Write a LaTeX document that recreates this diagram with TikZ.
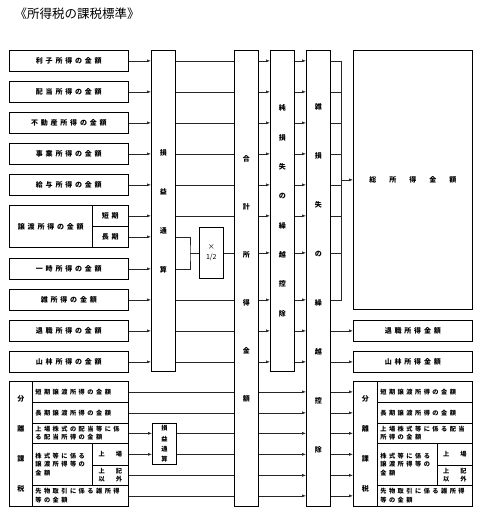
\documentclass[tikz,border=0pt]{standalone}
\usepackage{fontspec}
\setmainfont{Noto Sans CJK JP}
\usetikzlibrary{arrows.meta}
\newcommand{\spread}{\bfseries\addfontfeature{LetterSpace=40}}

\begin{document}
\begin{tikzpicture}[x=1pt,y=-1pt,>={Latex[length=4pt,width=3pt]},
	box/.style={draw,line width=0.7pt,inner sep=0pt,anchor=north west,
		font=\fontsize{7}{8}\selectfont\spread},
	cell/.style={box,align=left,inner xsep=3pt,
		font=\fontsize{6.2}{8.5}\selectfont\spread},
	col/.style={box,minimum width=24pt,align=center},
	link/.style={line width=0.6pt,black!85}]

	\useasboundingbox (0,0) rectangle (481,512);
	\node[anchor=west,font=\fontsize{12.5}{14}\selectfont] (title) at (11,14) {《所得税の課税標準》};

	% The income boxes
	\foreach \nm/\yy/\txt in {rishi/50/利子所得の金額,haito/81/配当所得の金額,
		fudo/112/不動産所得の金額,jigyo/143/事業所得の金額,kyuyo/174/給与所得の金額,
		ichiji/258/一時所得の金額,zatsu/289/雑所得の金額,taisho/320/退職所得の金額,
		sanrin/351/山林所得の金額}
		\node[box,minimum width=119pt,minimum height=21pt] (\nm) at (9,\yy) {\txt};
	\node[box,minimum width=83pt,minimum height=42pt] (joto) at (9,205) {譲渡所得の金額};
	\node[box,minimum width=36pt,minimum height=21pt] (tanki) at (92,205) {短期};
	\node[box,minimum width=36pt,minimum height=21pt] (choki) at (92,226) {長期};

	% The columns
	\node[col,minimum height=321pt,font=\fontsize{7}{39}\selectfont\bfseries] (son1) at (151,50) {損\\益\\通\\算};
	\node[col,minimum height=51pt,font=\fontsize{7}{10}\selectfont] (half) at (199,227) {×\\1/2};
	\node[col,minimum height=456pt,font=\fontsize{7}{48}\selectfont\bfseries] (gokei) at (234,50) {合\\計\\所\\得\\金\\額};
	\node[col,minimum height=321pt,font=\fontsize{7}{29.3}\selectfont\bfseries] (junson) at (270,50) {純\\損\\失\\の\\繰\\越\\控\\除};
	\node[col,minimum height=456pt,font=\fontsize{7}{49}\selectfont\bfseries] (zasson) at (306,50) {雑\\損\\失\\の\\繰\\越\\控\\除};
	\node[col,minimum height=41pt,font=\fontsize{6.2}{10.3}\selectfont\bfseries] (son2) at (152,423) {損\\益\\通\\算};

	% The results
	\node[box,minimum width=119pt,minimum height=259pt,font=\fontsize{7}{8}\selectfont\bfseries] (sou) at (353,50)
		{総\hspace{13pt}所\hspace{13pt}得\hspace{13pt}金\hspace{13pt}額};
	\node[box,minimum width=119pt,minimum height=21pt] (rtai) at (353,320) {退職所得金額};
	\node[box,minimum width=119pt,minimum height=21pt] (rsan) at (353,351) {山林所得金額};

	% Separate taxation, left
	\node[box,minimum width=23pt,minimum height=125pt,align=center,font=\fontsize{7}{29.7}\selectfont\bfseries] (lbunri) at (9,381) {分\\離\\課\\税};
	\node[cell,text width=90pt,minimum height=21pt] (lr1) at (32,381) {短期譲渡所得の金額};
	\node[cell,text width=90pt,minimum height=21pt] (lr2) at (32,402) {長期譲渡所得の金額};
	\node[cell,text width=90pt,minimum height=20pt] (lr3) at (32,423) {上場株式の配当等に係\\る配当所得の金額};
	\node[cell,text width=54pt,minimum height=42pt] (lkabu) at (32,443) {株式等に係る\\譲渡所得等の\\金額};
	\node[cell,text width=30pt,minimum height=22pt,align=center] (ljojo) at (92,443) {上　場};
	\node[cell,text width=30pt,minimum height=20pt,align=center] (ligai) at (92,465) {上　記\\以　外};
	\node[cell,text width=90pt,minimum height=21pt] (lr6) at (32,485) {先物取引に係る雑所得\\等の金額};

	% Separate taxation, right
	\node[box,minimum width=24pt,minimum height=125pt,align=center,font=\fontsize{7}{29.7}\selectfont\bfseries] (rbunri) at (353,381) {分\\離\\課\\税};
	\node[cell,text width=89pt,minimum height=21pt] (rr1) at (377,381) {短期譲渡所得の金額};
	\node[cell,text width=89pt,minimum height=21pt] (rr2) at (377,402) {長期譲渡所得の金額};
	\node[cell,text width=89pt,minimum height=20pt] (rr3) at (377,423) {上場株式等に係る配当\\所得の金額};
	\node[cell,text width=54pt,minimum height=42pt] (rkabu) at (377,443) {株式等に係る\\譲渡所得等の\\金額};
	\node[cell,text width=29pt,minimum height=22pt,align=center] (rjojo) at (437,443) {上　場};
	\node[cell,text width=29pt,minimum height=20pt,align=center] (rigai) at (437,465) {上　記\\以　外};
	\node[cell,text width=89pt,minimum height=21pt] (rr6) at (377,485) {先物取引に係る雑所得\\等の金額};

	% Into the first column
	\foreach \nm in {rishi,haito,fudo,jigyo,kyuyo,tanki,choki,ichiji,zatsu,taisho,sanrin}
		\draw[link,->] (\nm.east) -- (\nm.east -| son1.west);

	% On to the total
	\foreach \nm in {rishi,haito,fudo,jigyo,kyuyo,tanki,zatsu,taisho,sanrin}
		\draw[link] (\nm.east -| son1.east) -- (\nm.east -| gokei.west);
	\coordinate (brk) at ([xshift=-9pt]half.west);
	\draw[link] (choki.east -| son1.east) -| (brk) |- (ichiji.east -| son1.east);
	\draw[link] (brk) -- (half.west);
	\draw[link] (half.east) -- (half.east -| gokei.west);

	% Through the carry-forward columns
	\foreach \nm in {rishi,haito,fudo,jigyo,kyuyo,tanki,half,zatsu,taisho,sanrin}
	{
		\draw[link,->] (\nm.east -| gokei.east) -- (\nm.east -| junson.west);
		\draw[link,->] (\nm.east -| junson.east) -- (\nm.east -| zasson.west);
	}

	% The bus
	\coordinate (bus) at ([xshift=11pt]zasson.east);
	\foreach \nm in {rishi,haito,fudo,jigyo,kyuyo,tanki,half,zatsu}
		\draw[link] (\nm.east -| zasson.east) -- (\nm.east -| bus);
	\draw[link] (rishi.east -| bus) -- (zatsu.east -| bus);
	\draw[link,->] (sou.west -| bus) -- (sou.west);
	\draw[link,->] (taisho.east -| zasson.east) -- (rtai.west);
	\draw[link,->] (sanrin.east -| zasson.east) -- (rsan.west);

	% Separate taxation rows
	\foreach \nm in {lr1,lr2,ligai,lr6}
		\draw[link] (\nm.east) -- (\nm.east -| gokei.west);
	\foreach \nm in {lr3,ljojo}
	{
		\draw[link,->] (\nm.east) -- (\nm.east -| son2.west);
		\draw[link] (\nm.east -| son2.east) -- (\nm.east -| gokei.west);
	}
	\foreach \nm in {lr1,lr2,lr3,ljojo,ligai,lr6}
	{
		\draw[link,->] (\nm.east -| gokei.east) -- (\nm.east -| zasson.west);
		\draw[link,->] (\nm.east -| zasson.east) -- (\nm.east -| rbunri.west);
	}

\end{tikzpicture}
\end{document}
